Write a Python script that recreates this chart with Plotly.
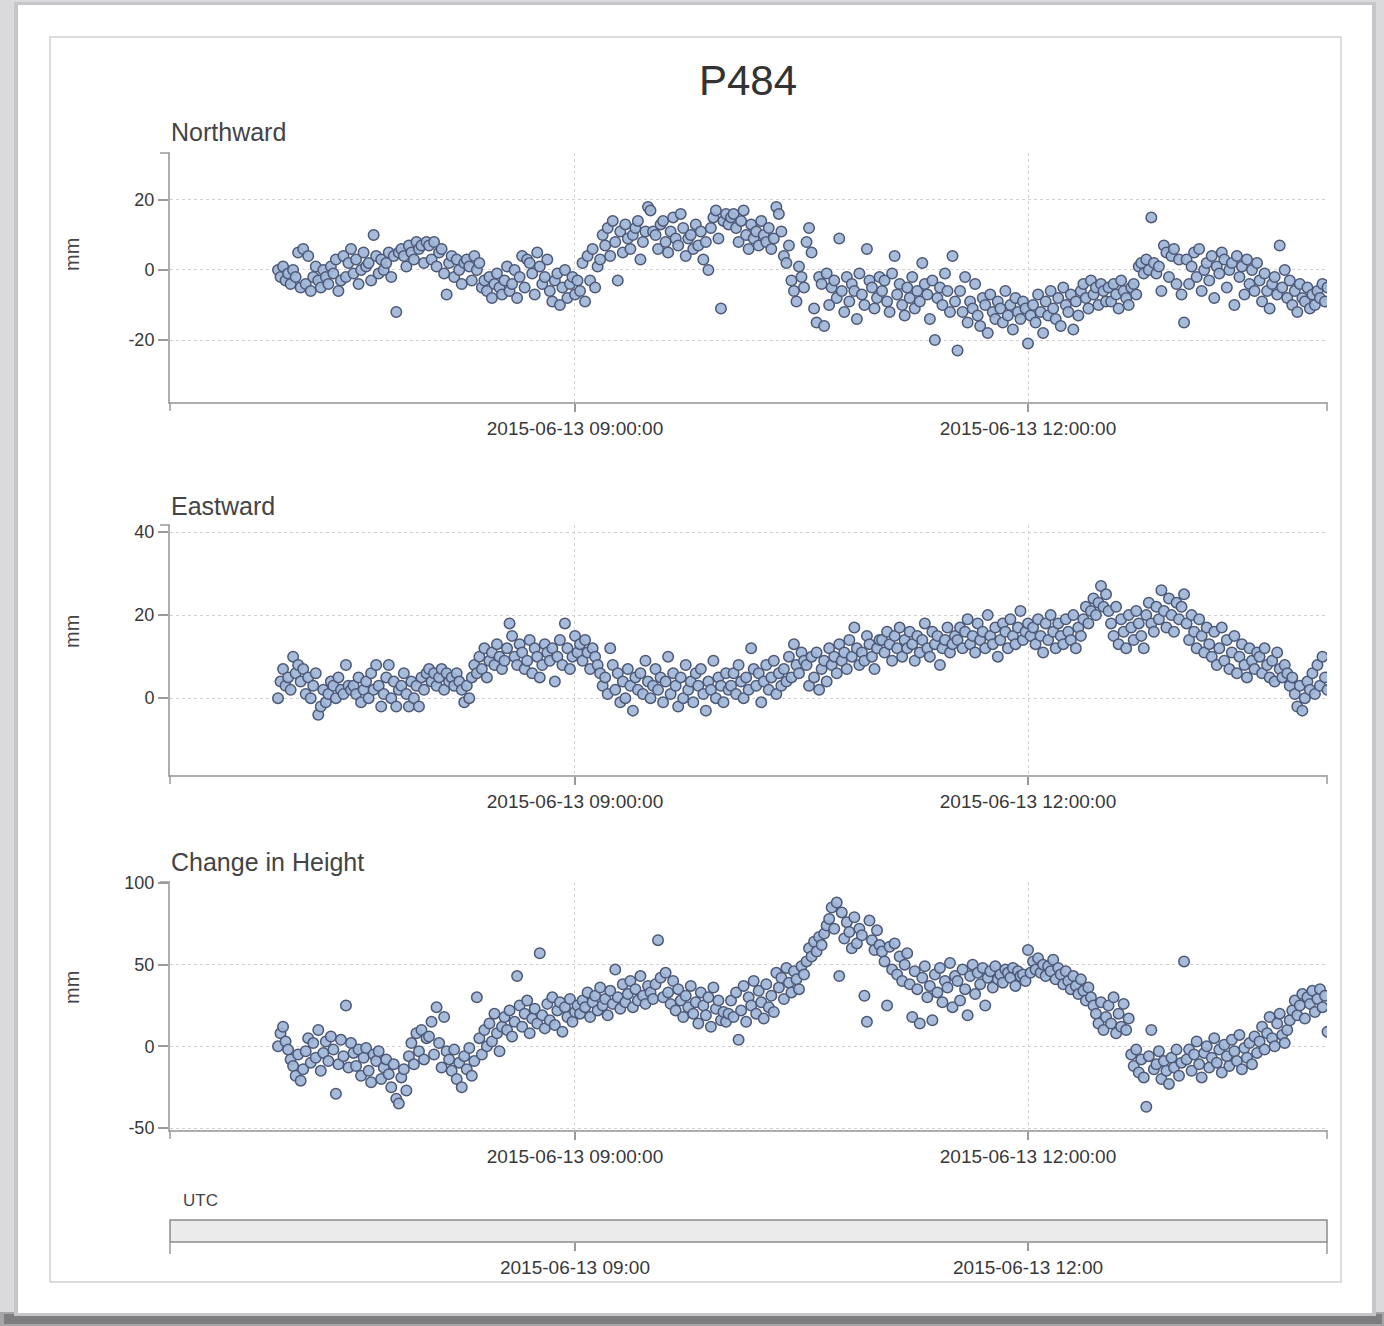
import pandas as pd
import plotly.graph_objects as go

# ---------------- data ----------------
title_text = "P484"
panel_titles = ["Northward", "Eastward", "Change in Height"]
y_unit = "mm"
slider_label = "UTC"
start_time = "2015-06-13 07:02:00"   # one sample per minute
x_range = ["2015-06-13 06:19:05", "2015-06-13 13:58:48"]
x_tickvals = ["2015-06-13 09:00:00", "2015-06-13 12:00:00"]
x_ticktext = ["2015-06-13 09:00:00", "2015-06-13 12:00:00"]
slider_ticktext = ["2015-06-13 09:00", "2015-06-13 12:00"]

northward = [
    0, -2, 1, -3, -1, -4, 0, -2, 5, -5, 6, -4, 4, -6, -2, 1, -3, -5, 0, -2, -4, 1, -1, 3, -6, -3, 4, -2, 2, 6,
    -1, 3, -4, 0, 5, 1, 2, -3, 10, 4, -1, 3, 0, 2, 5, -2, 4, -12, 5, 6, 4, 1, 7, 5, 3, 8, 6, 7, 2, 8,
    7, 3, 8, 1, 5, 6, -1, -7, 2, 4, -2, 3, 0, -4, 2, 3, 1, -3, 4, 0, 2, -5, -3, -6, -2, -8, -4, -1, -5, -7,
    -3, 1, -6, -4, 0, -8, -2, 4, -5, 3, 2, -1, -7, 5, 1, -4, -2, 3, -6, -9, -3, -1, -10, -5, 0, -8, -4, -2, -7, -3,
    -6, 2, -9, 4, -3, 6, -5, 1, 3, 10, 7, 12, 4, 14, 8, -3, 11, 5, 13, 9, 6, 10, 12, 14, 3, 8, 11, 18, 17, 11,
    10, 6, 13, 14, 8, 5, 11, 15, 9, 7, 16, 12, 4, 9, 10, 6, 13, 7, 11, 3, 8, 0, 12, 15, 17, 9, -11, 14, 16, 13,
    15, 16, 12, 8, 14, 17, 10, 6, 13, 9, 11, 7, 14, 10, 8, 12, 6, 9, 18, 16, 11, 4, 2, 7, -3, -6, -9, 1, -2, -5,
    8, 12, 5, -11, -15, -2, -4, -16, -1, -10, -5, -3, -8, 9, -6, -12, -2, -9, -4, -6, -14, -1, -7, -10, 6, -3, -5, -11, -8, -2,
    -6, -3, -9, -12, -1, 4, -7, -4, -10, -13, -5, -8, -2, -11, -6, -9, 2, -4, -7, -14, -3, -20, -8, -5, -10, -1, -6, -12, 4, -9,
    -23, -6, -12, -2, -15, -9, -11, -4, -13, -16, -8, -10, -18, -7, -12, -14, -9, -11, -15, -6, -13, -10, -17, -8, -12, -14, -9, -11, -21, -13,
    -10, -15, -7, -12, -18, -9, -13, -6, -11, -14, -8, -16, -5, -10, -12, -7, -17, -9, -13, -6, -4, -8, -11, -3, -7, -5, -10, -4, -6, -9,
    -5, -9, -4, -7, -11, -3, -6, -8, -10, -5, -4, -7, 1, 2, -1, 3, 0, 15, 2, -1, 1, -6, 7, 5, -2, 4, 6, -4, 3, -7,
    -15, 3, -4, 1, 5, -2, 6, -6, 0, 2, -3, 4, -8, 1, -1, 5, 3, -5, 0, 2, -10, 4, -2, 1, -7, 3, -4, 0, -6, 2,
    -3, -9, -1, -6, -11, -4, -2, -7, 7, -5, 0, -8, -3, -10, -6, -12, -4, -8, -9, -5, -11, -7, -10, -6, -8, -4, -9, -5,
]

eastward = [
    0, 4, 7, 3, 5, 2, 10, 6, 8, 4, 7, 1, 5, 0, 3, 6, -4, -2, 2, -1, 1, 4, 3, 0, 5, 2, 1, 8, 3, 2,
    3, 1, 5, -1, 2, 4, 0, 6, 2, 8, 3, -2, 1, 5, 8, 0, 4, -2, 2, 3, 6, 1, -2, 4, 0, 3, -2, 5, 2, 6,
    7, 4, 6, 3, 5, 7, 2, 6, 4, 5, 3, 6, 4, 2, -1, 3, 0, 5, 8, 6, 10, 7, 12, 5, 9, 11, 8, 13, 10, 7,
    9, 12, 18, 15, 10, 8, 13, 11, 7, 9, 14, 6, 12, 10, 5, 8, 13, 11, 9, 12, 4, 10, 14, 8, 18, 12, 7, 10, 15, 11,
    13, 9, 14, 11, 7, 12, 10, 8, 6, 3, 5, 1, 12, 8, 2, 6, -1, 4, 0, 7, 3, -3, 5, 2, 6, 1, 9, 4, 0, 3,
    7, 2, 5, -1, 4, 10, 1, 6, 3, -2, 5, 0, 8, 2, 4, -1, 6, 3, 7, 1, -3, 4, 2, 9, 0, 5, 3, -1, 6, 2,
    3, 6, 1, 8, 4, 0, 5, 2, 12, 7, 3, 6, -1, 4, 8, 2, 5, 9, 1, 6, 3, 7, 4, 10, 5, 13, 8, 6, 11, 9,
    8, 3, 10, 5, 11, 2, 7, 9, 4, 12, 8, 10, 6, 13, 9, 11, 7, 14, 10, 17, 12, 8, 11, 9, 15, 13, 10, 7, 12, 14,
    14, 11, 16, 13, 9, 15, 12, 17, 10, 14, 12, 16, 13, 9, 15, 11, 14, 18, 12, 10, 16, 13, 15, 8, 12, 14, 17, 11, 13, 15,
    14, 17, 12, 16, 19, 13, 15, 11, 18, 14, 16, 12, 20, 15, 13, 17, 10, 14, 18, 16, 12, 19, 15, 13, 17, 21, 14, 16, 18, 15,
    17, 13, 19, 15, 11, 18, 14, 20, 16, 12, 18, 15, 13, 19, 16, 14, 20, 12, 17, 15, 19, 22, 18, 21, 24, 20, 23, 27, 22, 25,
    21, 18, 15, 22, 13, 19, 16, 12, 20, 17, 14, 21, 18, 15, 12, 20, 23, 18, 16, 22, 19, 26, 21, 17, 24, 20, 16, 23, 19, 22,
    25, 18, 14, 20, 16, 12, 19, 15, 11, 17, 13, 10, 16, 8, 12, 17, 9, 14, 7, 11, 15, 6, 10, 13, 8, 5, 12, 9, 7, 11,
    10, 6, 12, 8, 5, 9, 4, 11, 7, 5, 8, 6, 3, 5, 1, -2, 3, -3, 0, 4, 2, 6, 1, 8, 3, 10, 5, 2,
]

height = [
    0, 8, 12, 3, -2, -8, -12, -18, -5, -21, -14, -3, 5, -10, 2, -7, 10, -15, -4, 3, -9, 6, -2, -29, -11, 4, -6, 25, -13, 2,
    -4, -12, -2, -18, -7, -1, -15, -22, -5, -9, -3, -20, -13, -8, -17, -25, -11, -32, -35, -19, -14, -27, -6, 2, -11, 8, -3, 10, -8, 5,
    6, 15, -5, 24, 2, -13, 18, -3, -8, -15, -2, -20, -10, -25, -6, -14, -1, -18, -9, 30, 5, -5, 10, 0, 14, 3, 20, 8, -3, 12,
    18, 10, 22, 6, 15, 43, 25, 12, 20, 28, 8, 17, 23, 14, 57, 19, 11, 26, 16, 30, 13, 22, 27, 9, 24, 18, 29, 15, 21, 25,
    20, 28, 24, 33, 18, 27, 31, 22, 36, 25, 29, 19, 34, 26, 47, 30, 23, 38, 27, 32, 40, 24, 35, 28, 43, 31, 26, 37, 33, 29,
    38, 65, 42, 30, 45, 33, 26, 40, 22, 35, 28, 18, 31, 24, 37, 20, 27, 14, 33, 25, 19, 30, 12, 36, 23, 28, 16, 21, 15, 20,
    28, 18, 33, 4, 22, 37, 15, 30, 25, 40, 20, 34, 27, 17, 38, 24, 31, 21, 45, 36, 42, 29, 48, 39, 33, 46, 41, 35, 49, 44,
    52, 60, 55, 64, 58, 67, 62, 69, 74, 78, 85, 72, 88, 43, 82, 66, 76, 70, 60, 79, 63, 72, 68, 31, 15, 77, 65, 59, 71, 62,
    58, 52, 25, 61, 47, 63, 44, 55, 40, 50, 57, 38, 18, 46, 35, 14, 42, 49, 30, 37, 16, 44, 33, 48, 27, 40, 36, 51, 24, 43,
    40, 28, 47, 35, 19, 43, 50, 32, 45, 38, 48, 25, 42, 46, 36, 49, 41, 44, 39, 47, 45, 42, 48, 37, 46, 43, 44, 40, 59, 45,
    52, 47, 54, 45, 50, 43, 49, 46, 53, 41, 48, 44, 38, 46, 40, 35, 43, 37, 32, 41, 34, 28, 36, 30, 25, 20, 14, 27, 10, 18,
    25, 14, 30, 8, 20, 12, 26, 10, 17, -5, -12, -2, -16, -8, -19, -37, -6, 10, -14, -11, -3, -20, -9, -15, -23, -7, -13, -2, -18, -10,
    52, -8, -2, -15, -5, 3, -11, -19, -4, 0, -13, -7, 5, -10, -2, -16, 1, -6, -12, 4, -3, -9, 7, -14, -1, -7, 2, -11, 6, -4,
    3, 12, -2, 8, 18, 5, 0, 14, 20, 7, 2, 10, 16, 22, 28, 19, 25, 32, 17, 30, 26, 34, 21, 29, 35, 24, 31, 9,
]

series = [northward, eastward, height]
y_ticks = [[-20, 0, 20], [0, 20, 40], [-50, 0, 50, 100]]
y_ticklabels = [["-20", "0", "20"], ["0", "20", "40"], ["-50", "0", "50", "100"]]
y_ranges = [[-37.7, 33.4], [-18.5, 41.7], [-51.2, 100.6]]

# ---------------- layout helpers ----------------
W, H = 1384, 1326
def px(x):
    return x / W
def py(y):
    return 1 - y / H

FONT = "Liberation Sans, Arial, Helvetica, sans-serif"
TXT = "#383838"
AXC = "#adadad"
TICKC = "#9a9a9a"
GRIDC = "#d2d2d2"

panels_px = [(153, 402), (525, 775), (882, 1130)]
x_left, x_right = 170, 1327
slider_px = (1220, 1242)

fig = go.Figure()

for i, vals in enumerate(series):
    s = "" if i == 0 else str(i + 1)
    t = pd.date_range(start_time, periods=len(vals), freq="1min")
    fig.add_trace(go.Scatter(
        x=t, y=vals, mode="markers", xaxis="x" + s, yaxis="y" + s,
        marker=dict(size=10.5, color="rgba(160,182,216,0.92)",
                    line=dict(color="#4d5877", width=1.5)),
        showlegend=False, hoverinfo="skip", cliponaxis=True,
    ))

fig.add_trace(go.Scatter(x=[], y=[], xaxis="x4", yaxis="y4", showlegend=False))

layout = dict(
    template="none",
    width=W, height=H,
    margin=dict(l=0, r=0, t=0, b=0, pad=0, autoexpand=False),
    paper_bgcolor="#dadadd",
    plot_bgcolor="rgba(0,0,0,0)",
    font=dict(family=FONT, color=TXT),
    showlegend=False,
)

for i in range(3):
    s = "" if i == 0 else str(i + 1)
    top, bot = panels_px[i]
    layout["xaxis" + s] = dict(
        type="date", domain=[px(x_left), px(x_right)], anchor="y" + s,
        range=x_range, tickvals=x_tickvals, ticktext=x_ticktext,
        ticks="outside", ticklen=8, tickwidth=1.5, tickcolor=TICKC,
        showline=True, linecolor=AXC, linewidth=2,
        showgrid=True, gridcolor=GRIDC, griddash="dot", gridwidth=1,
        zeroline=False, tickfont=dict(size=19, color=TXT, family=FONT),
        automargin=False, fixedrange=True,
    )
    layout["yaxis" + s] = dict(
        domain=[py(bot), py(top)], anchor="x" + s,
        range=y_ranges[i], tickvals=y_ticks[i], ticktext=y_ticklabels[i],
        ticks="outside", ticklen=10, tickwidth=1.5, tickcolor=TICKC,
        showline=True, linecolor=AXC, linewidth=2,
        showgrid=True, gridcolor=GRIDC, griddash="dot", gridwidth=1,
        zeroline=False, tickfont=dict(size=18, color=TXT, family=FONT),
        automargin=False, fixedrange=True,
    )

layout["xaxis4"] = dict(
    type="date", domain=[px(x_left), px(x_right)], anchor="y4",
    range=x_range, tickvals=x_tickvals, ticktext=slider_ticktext,
    ticks="outside", ticklen=8, tickwidth=1.5, tickcolor=TICKC,
    showline=False, showgrid=False, zeroline=False,
    tickfont=dict(size=19, color=TXT, family=FONT), automargin=False, fixedrange=True,
)
layout["yaxis4"] = dict(domain=[py(slider_px[1]), py(slider_px[0])], anchor="x4",
                        range=[0, 1], visible=False, automargin=False, fixedrange=True)

shapes = []
# card shadow bands
shapes.append(dict(type="rect", xref="paper", yref="paper", x0=0, x1=1,
                   y0=0, y1=py(1312), fillcolor="#a6a6a9", line=dict(width=0), layer="below"))
shapes.append(dict(type="rect", xref="paper", yref="paper", x0=px(4), x1=px(1382),
                   y0=py(1324), y1=py(1314), fillcolor="#7e7e81", line=dict(width=0), layer="below"))
shapes.append(dict(type="rect", xref="paper", yref="paper", x0=px(14), x1=px(1376),
                   y0=py(1316), y1=py(2), fillcolor="#c6c6ca", line=dict(width=0), layer="below"))
# white card
shapes.append(dict(type="rect", xref="paper", yref="paper", x0=px(18), x1=px(1372),
                   y0=py(1313), y1=py(5), fillcolor="#ffffff", line=dict(width=0), layer="below"))
# inner frame
shapes.append(dict(type="rect", xref="paper", yref="paper", x0=px(50), x1=px(1341),
                   y0=py(1282), y1=py(37), fillcolor="rgba(0,0,0,0)",
                   line=dict(color="#d2d2d2", width=1.5), layer="below"))

# d3-style outer ticks at axis ends
for i in range(3):
    s = "" if i == 0 else str(i + 1)
    for xv in (0, 1):
        shapes.append(dict(type="line", xref="x" + s + " domain", yref="y" + s + " domain",
                           x0=xv, x1=xv, ysizemode="pixel", yanchor=0, y0=0, y1=-9,
                           line=dict(color=TICKC, width=1.5)))
    shapes.append(dict(type="line", xref="x" + s + " domain", yref="y" + s + " domain",
                       y0=1, y1=1, xsizemode="pixel", xanchor=0, x0=0, x1=-10,
                       line=dict(color=TICKC, width=1.5)))

# slider bar
shapes.append(dict(type="rect", xref="x4 domain", yref="y4 domain", x0=0, x1=1, y0=0, y1=1,
                   fillcolor="#ebebeb", line=dict(color="#8c8c8c", width=1.5)))
for xv in (0, 1):
    shapes.append(dict(type="line", xref="x4 domain", yref="y4 domain",
                       x0=xv, x1=xv, ysizemode="pixel", yanchor=0, y0=0, y1=-12,
                       line=dict(color=TICKC, width=1.5)))
layout["shapes"] = shapes

ann = []
ann.append(dict(text=title_text, x=px(748), y=py(80), xref="paper", yref="paper",
                xanchor="center", yanchor="middle", showarrow=False,
                font=dict(size=42, color="#333333", family=FONT)))
title_y = [132, 506, 862]
unit_y = [255, 632, 988]
for i in range(3):
    ann.append(dict(text=panel_titles[i], x=px(169), y=py(title_y[i]), xref="paper", yref="paper",
                    xanchor="left", yanchor="middle", showarrow=False,
                    font=dict(size=25, color="#444444", family=FONT)))
    ann.append(dict(text=y_unit, x=px(72), y=py(unit_y[i]), xref="paper", yref="paper",
                    xanchor="center", yanchor="middle", showarrow=False, textangle=-90,
                    font=dict(size=20, color="#444444", family=FONT)))
ann.append(dict(text=slider_label, x=px(181), y=py(1200), xref="paper", yref="paper",
                xanchor="left", yanchor="middle", showarrow=False,
                font=dict(size=17, color="#444444", family=FONT)))
layout["annotations"] = ann

fig.update_layout(**layout)

fig.write_html("out.html", config={"displayModeBar": False},
               post_script="document.body.style.margin='0';document.body.style.overflow='hidden';")
